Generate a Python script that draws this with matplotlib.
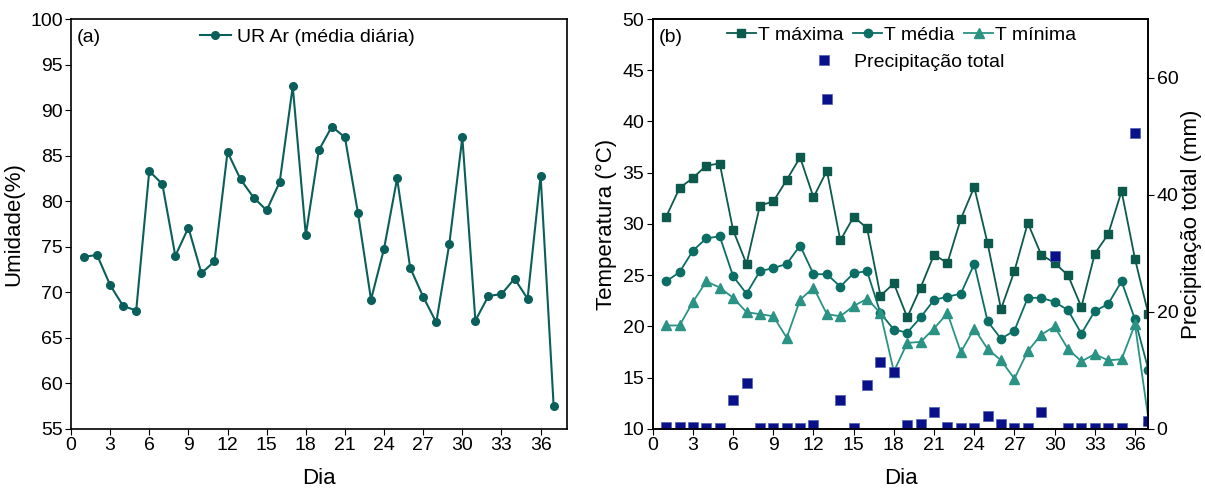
import matplotlib.pyplot as plt
import numpy as np

plt.rcParams['font.family'] = ['Liberation Sans', 'DejaVu Sans']

dia = list(range(1, 38))

# umidade relativa do ar (media diaria), %
ur = [73.9, 74.1, 70.8, 68.5, 68.0, 83.3, 81.9, 74.0, 77.1, 72.1, 73.4, 85.4,
      82.4, 80.4, 79.0, 82.1, 92.6, 76.3, 85.6, 88.2, 87.0, 78.7, 69.2, 74.8,
      82.5, 72.7, 69.5, 66.7, 75.3, 87.0, 66.9, 69.6, 69.8, 71.5, 69.3, 82.8, 57.5]

t_max = [30.7, 33.5, 34.5, 35.7, 35.9, 29.4, 26.1, 31.8, 32.2, 34.3, 36.5, 32.6,
         35.2, 28.4, 30.7, 29.6, 23.0, 24.2, 20.9, 23.8, 27.0, 26.2, 30.5, 33.6,
         28.1, 21.7, 25.4, 30.1, 27.0, 26.2, 25.0, 21.9, 27.1, 29.0, 33.2, 26.6, 21.2]

t_med = [24.4, 25.3, 27.4, 28.6, 28.8, 24.9, 23.2, 25.4, 25.7, 26.1, 27.9, 25.1,
         25.1, 23.9, 25.2, 25.4, 21.3, 19.7, 19.4, 20.9, 22.6, 22.9, 23.2, 26.1,
         20.5, 18.8, 19.6, 22.8, 22.8, 22.4, 21.6, 19.3, 21.5, 22.2, 24.4, 20.7, 15.8]

t_min = [20.1, 20.1, 22.4, 24.4, 23.8, 22.8, 21.4, 21.2, 21.0, 18.9, 22.6, 23.8,
         21.2, 21.0, 22.0, 22.7, 21.3, 15.6, 18.4, 18.5, 19.8, 21.3, 17.5, 19.8,
         17.8, 16.7, 14.9, 17.6, 19.2, 20.0, 17.8, 16.6, 17.3, 16.7, 16.8, 20.2, 11.0]

prec = [0.4, 0.3, 0.3, 0.1, 0.1, 5.0, 7.9, 0.1, 0.1, 0.1, 0.1, 0.7,
        56.3, 5.0, 0.1, 7.5, 11.5, 9.7, 0.6, 0.85, 2.85, 0.3, 0.1, 0.1,
        2.3, 0.85, 0.1, 0.1, 2.85, 29.6, 0.1, 0.1, 0.1, 0.1, 0.1, 50.6, 1.4]

c_ur = '#0b5f5a'
c_max = '#0c5a4c'
c_med = '#0b6e64'
c_min = '#2a9384'
c_prec = '#0a0f8a'

fig = plt.figure(figsize=(12.05, 4.91), dpi=100)
ax1 = fig.add_axes([0.0589, 0.1263, 0.4114, 0.835])
ax2 = fig.add_axes([0.5417, 0.1263, 0.4113, 0.835])

# (a) umidade
ax1.plot(dia, ur, '-o', color=c_ur, lw=1.5, ms=5.5, label='UR Ar (média diária)')
ax1.set_xlim(0, 38)
ax1.set_ylim(55, 100)
ax1.set_xticks(np.arange(0, 37, 3))
ax1.set_yticks(np.arange(55, 101, 5))
ax1.set_xlabel('Dia', fontsize=16, labelpad=10)
ax1.set_ylabel('Umidade(%)', fontsize=16, labelpad=4)
ax1.text(0.012, 0.975, '(a)', transform=ax1.transAxes, fontsize=14, va='top')
ax1.legend(loc='upper center', frameon=False, fontsize=14, handlelength=1.6,
           handletextpad=0.3, bbox_to_anchor=(0.476, 1.02))

# (b) temperatura e precipitacao
l1, = ax2.plot(dia, t_max, '-s', color=c_max, lw=1.3, ms=5.5, label='T máxima')
l2, = ax2.plot(dia, t_med, '-o', color=c_med, lw=1.3, ms=6, label='T média')
l3, = ax2.plot(dia, t_min, '-^', color=c_min, lw=1.3, ms=6.5, label='T mínima')
ax2.set_xlim(0, 37)
ax2.set_ylim(10, 50)
ax2.set_xticks(np.arange(0, 37, 3))
ax2.set_yticks(np.arange(10, 51, 5))
ax2.set_xlabel('Dia', fontsize=16, labelpad=10)
ax2.set_ylabel('Temperatura (°C)', fontsize=16, labelpad=4)
ax2.text(0.012, 0.975, '(b)', transform=ax2.transAxes, fontsize=14, va='top')

ax3 = ax2.twinx()
l4, = ax3.plot(dia, prec, 's', color=c_prec, ms=7.5, mec='#5060b0', mew=0.5,
               label='Precipitação total', linestyle='none')
ax3.set_ylim(0, 70)
ax3.set_yticks([0, 20, 40, 60])
ax3.set_ylabel('Precipitação total (mm)', fontsize=16, labelpad=2)

leg1 = ax3.legend(handles=[l1, l2, l3], loc='upper center', ncol=3, frameon=False,
                  fontsize=14, handlelength=1.5, handletextpad=0.1,
                  columnspacing=0.5, bbox_to_anchor=(0.502, 1.025))
ax3.add_artist(leg1)
ax3.legend(handles=[l4], loc='upper left', frameon=False, fontsize=14,
           handlelength=1.5, handletextpad=0.8, bbox_to_anchor=(0.28, 0.96))

for ax in (ax1, ax2, ax3):
    ax.tick_params(labelsize=14, direction='out', length=4, pad=2)
    for s in ax.spines.values():
        s.set_linewidth(1.2)

fig.savefig('out.png', dpi=100)
